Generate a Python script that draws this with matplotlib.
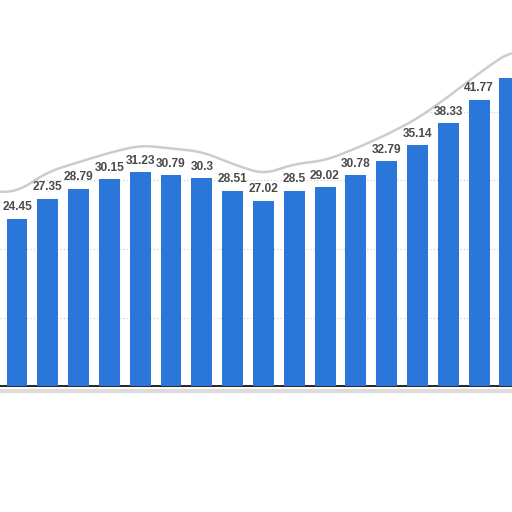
import numpy as np
import matplotlib.pyplot as plt

values = [24.45, 27.35, 28.79, 30.15, 31.23, 30.79, 30.3, 28.51, 27.02,
          28.5, 29.02, 30.78, 32.79, 35.14, 38.33, 41.77, 44.9]
labels = ["24.45", "27.35", "28.79", "30.15", "31.23", "30.79", "30.3", "28.51", "27.02",
          "28.5", "29.02", "30.78", "32.79", "35.14", "38.33", "41.77", ""]
grid_levels = [10, 20, 30, 40, 50]

x = np.arange(len(values))

fig = plt.figure(figsize=(5.12, 5.12), dpi=100)
ax = fig.add_axes([0, 126 / 512, 1, 386 / 512])

for g in grid_levels:
    ax.axhline(g, color='#c8c8c8', lw=0.8, ls=(0, (1, 2)), zorder=1)

ax.bar(x, values, width=0.68, color='#2b76d9', zorder=3)

# torn paper edge following the bar labels
tx = np.linspace(-0.6, 16.2, 300)
ty = np.interp(tx, x, np.array(values) + 3.9)
ty = np.convolve(np.pad(ty, 7, mode='edge'), np.ones(15) / 15, mode='valid')
ax.fill_between(tx, ty, 60, color='white', zorder=2)
ax.plot(tx, ty, color='#c4c4c4', lw=1.8, alpha=0.85, zorder=2)

for xi, v, lab in zip(x, values, labels):
    ax.annotate(lab, (xi, v), xytext=(0, 4), textcoords='offset points',
                ha='center', va='bottom', fontsize=8.6, fontweight='bold',
                color='#4a4a4a', family='Liberation Sans', zorder=4)

ax.set_xlim(-0.552, 16.07)
ax.set_ylim(0, 386 / 6.85)
for s in ['top', 'right', 'left']:
    ax.spines[s].set_visible(False)
ax.spines['bottom'].set_color('black')
ax.spines['bottom'].set_linewidth(1.2)
ax.set_xticks([])
ax.set_yticks([])

# shadow under the torn bottom edge
fig.add_artist(plt.Line2D([0, 1], [121 / 512, 121 / 512], color='#dcdcdc', lw=3))

fig.savefig('out.png', dpi=100)
